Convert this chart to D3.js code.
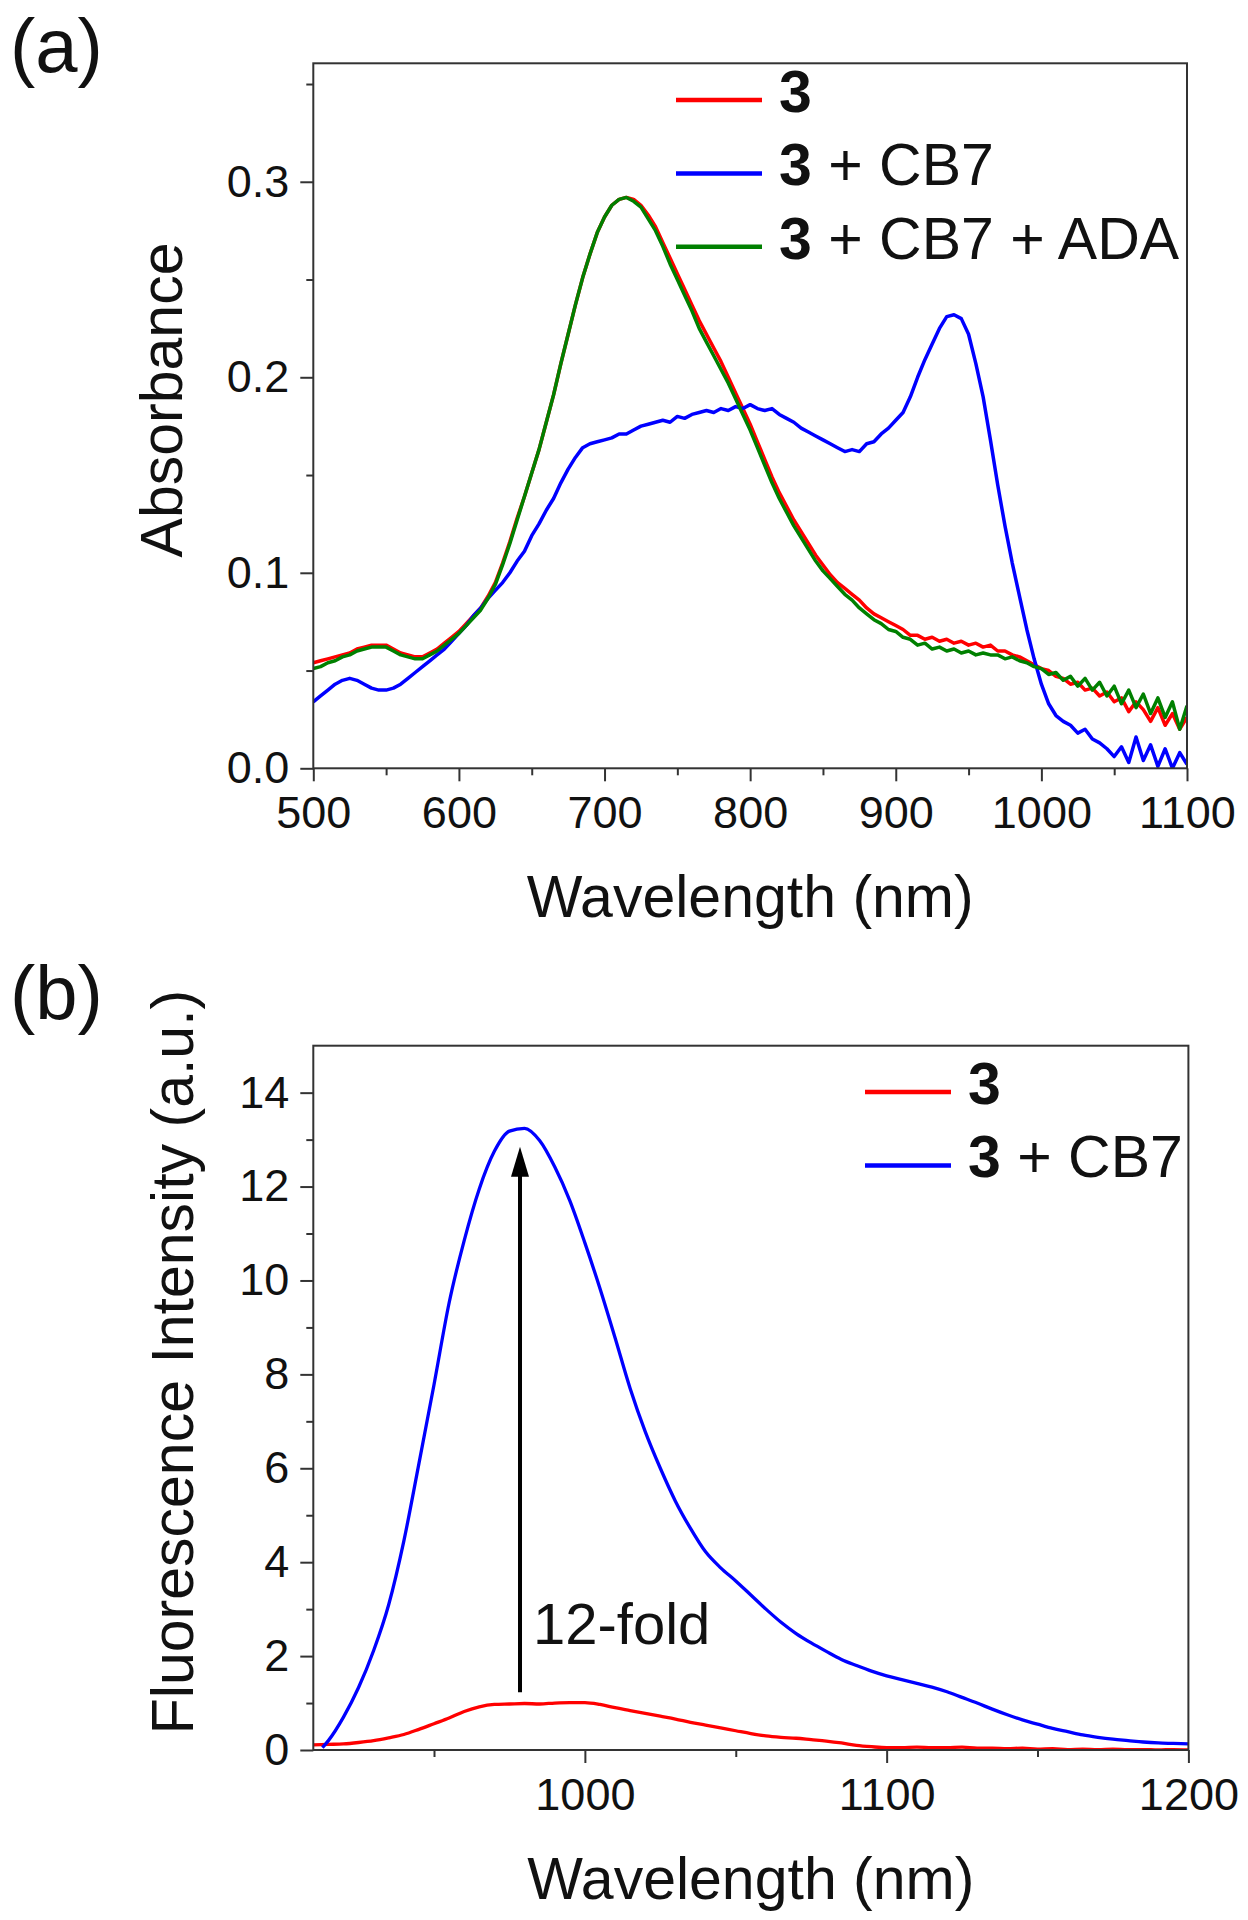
<!DOCTYPE html>
<html>
<head>
<meta charset="utf-8">
<script src="https://cdn.jsdelivr.net/npm/d3@7"></script>
<style>
body { margin: 0; background: #fff; }
svg { display: block; background: #fff; }
text { font-family: "Liberation Sans", Arial, sans-serif; fill: #111; }
.axis path, .axis line { stroke: #333; stroke-width: 2; }
.axis text { font-size: 45px; font-family: "Liberation Sans", Arial, sans-serif; fill: #111; }
.frame { fill: none; stroke: #333; stroke-width: 2; }
</style>
</head>
<body>
<svg width="1248" height="1920"></svg>
<script>

// (a) absorbance, sampled every 5 nm from 500 to 1100
var wavelengthA = d3.range(500, 1101, 5);

var abs3 = [
 .054,.055,.056,.057,.058,.059,.061,.062,.063,.063,.063,.061,.059,.058,.057,.057,.059,.061,.064,.067,.070,
 .074,.078,.082,.088,.095,.105,.116,.128,.139,.151,
 .163,.177,.191,.207,.222,.237,.251,.263,.274,.282,
 .288,.291,.292,.291,.288,.283,.277,.269,.261,.253,
 .245,.237,.229,.222,.215,.208,.200,.192,.184,.176,
 .167,.158,.149,.141,.134,.127,.121,.115,.109,.104,
 .099,.095,.092,.089,.086,.082,.079,.077,.075,.073,
 .071,.068,.068,.066,.067,.065,.066,.064,.065,.063,
 .064,.062,.063,.060,.060,.058,.057,.055,.053,.051,
 .050,.047,.046,.043,.044,.040,.041,.037,.039,.034,
 .036,.029,.034,.030,.024,.031,.022,.028,.020,.026
];

var abs3CB7 = [
 .034,.037,.040,.043,.045,.046,.045,.043,.041,.040,.040,.041,.043,.046,.049,.052,.055,.058,.061,.065,.069,
 .073,.078,.082,.087,.091,.095,.100,.106,.111,.119,
 .125,.132,.138,.146,.153,.159,.164,.166,.167,.168,
 .169,.171,.171,.173,.175,.176,.177,.178,.177,.180,
 .179,.181,.182,.183,.182,.184,.183,.185,.184,.186,
 .184,.183,.184,.181,.179,.177,.174,.172,.170,.168,
 .166,.164,.162,.163,.162,.166,.167,.171,.174,.178,
 .182,.190,.200,.209,.217,.225,.231,.232,.230,.222,
 .207,.190,.168,.145,.124,.105,.088,.071,.056,.043,
 .033,.027,.024,.022,.018,.020,.015,.013,.010,.006,
 .011,.003,.016,.004,.012,.001,.010,.000,.008,.002
];

var abs3CB7ADA = [
 .051,.052,.054,.055,.057,.058,.060,.061,.062,.062,.062,.060,.058,.057,.056,.056,.058,.060,.063,.066,.069,
 .073,.077,.081,.087,.094,.104,.115,.127,.139,.151,
 .163,.177,.191,.207,.222,.237,.251,.263,.274,.282,
 .288,.291,.292,.290,.287,.281,.275,.267,.258,.250,
 .242,.234,.225,.218,.211,.204,.197,.189,.181,.173,
 .164,.155,.146,.138,.131,.124,.118,.112,.106,.101,
 .097,.093,.089,.086,.082,.079,.076,.074,.071,.070,
 .067,.066,.063,.064,.061,.062,.060,.061,.059,.060,
 .058,.059,.058,.058,.056,.057,.055,.054,.052,.051,
 .048,.049,.045,.047,.042,.046,.040,.044,.037,.042,
 .033,.040,.031,.038,.028,.036,.026,.034,.020,.032
];

// (b) fluorescence
var wavelengthB3 = d3.range(910, 1201, 5);
var fluor3 = [
 .11,.12,.13,.16,.20,.26,.33,.44,.56,.68,
 .82,.92,.97,.98,.99,.98,1.00,1.01,1.01,.97,
 .90,.84,.78,.72,.66,.59,.53,.47,.41,.35,
 .30,.27,.25,.22,.19,.15,.10,.07,.05,.05,
 .06,.05,.05,.06,.04,.04,.03,.04,.02,.03,
 .01,.02,.01,.02,.01,.01,.00,.01,.00
];

var wavelengthBCB7 = [913].concat(d3.range(915, 1201, 5));
var fluor3CB7 = [
 .05,.20,.70,1.33,2.12,3.10,4.45,6.10,7.78,9.52,
 10.85,11.95,12.75,13.18,13.24,12.98,12.42,11.70,10.80,9.83,
 8.78,7.70,6.78,6.00,5.30,4.72,4.22,3.88,3.60,3.30,
 3.00,2.72,2.48,2.28,2.10,1.93,1.80,1.68,1.58,1.50,
 1.42,1.34,1.24,1.12,1.00,.87,.75,.64,.55,.46,
 .39,.32,.27,.23,.20,.17,.15,.14,.13
];

var ticksAx = [500, 600, 700, 800, 900, 1000, 1100],
    minorAx = [550, 650, 750, 850, 950, 1050],
    ticksAy = [0, 0.1, 0.2, 0.3],
    minorAy = [0.05, 0.15, 0.25, 0.35];
var ticksBx = [1000, 1100, 1200],
    minorBx = [950, 1050, 1150],
    ticksBy = [0, 2, 4, 6, 8, 10, 12, 14],
    minorBy = [1, 3, 5, 7, 9, 11, 13];

var svg = d3.select("svg");

function zip(xs, ys) {
  return xs.map(function(x, i) { return {x: x, y: ys[i]}; });
}

function panel(o) {
  var x = d3.scaleLinear().domain(o.xDomain).range([o.left, o.right]);
  var y = d3.scaleLinear().domain(o.yDomain).range([o.bottom, o.top]);
  var g = svg.append("g");

  g.append("clipPath").attr("id", o.id + "-clip")
    .append("rect")
      .attr("x", o.left).attr("y", o.top)
      .attr("width", o.right - o.left).attr("height", o.bottom - o.top);

  var line = d3.line()
      .curve(o.curve)
      .x(function(d) { return x(d.x); })
      .y(function(d) { return y(d.y); });

  o.series.forEach(function(s) {
    g.append("path")
        .datum(zip(s.x, s.y))
        .attr("clip-path", "url(#" + o.id + "-clip)")
        .attr("fill", "none")
        .attr("stroke", s.color)
        .attr("stroke-width", o.lineWidth)
        .attr("stroke-linejoin", "round")
        .attr("d", line);
  });

  g.append("rect").attr("class", "frame")
      .attr("x", o.left).attr("y", o.top)
      .attr("width", o.right - o.left).attr("height", o.bottom - o.top);

  g.append("g")
      .attr("class", "axis")
      .attr("transform", "translate(0," + o.bottom + ")")
      .call(d3.axisBottom(x).tickValues(o.xTicks).tickSize(13).tickPadding(15).tickFormat(d3.format("d")))
      .call(function(a) { a.select(".domain").remove(); });
  g.append("g")
      .attr("class", "axis")
      .attr("transform", "translate(0," + o.bottom + ")")
      .call(d3.axisBottom(x).tickValues(o.xMinor).tickSize(7).tickFormat(""))
      .call(function(a) { a.select(".domain").remove(); });
  g.append("g")
      .attr("class", "axis")
      .attr("transform", "translate(" + o.left + ",0)")
      .call(d3.axisLeft(y).tickValues(o.yTicks).tickSize(13).tickPadding(11).tickFormat(o.yFormat))
      .call(function(a) { a.select(".domain").remove(); });
  g.append("g")
      .attr("class", "axis")
      .attr("transform", "translate(" + o.left + ",0)")
      .call(d3.axisLeft(y).tickValues(o.yMinor).tickSize(7).tickFormat(""))
      .call(function(a) { a.select(".domain").remove(); });

  g.append("text")
      .attr("x", (o.left + o.right) / 2)
      .attr("y", o.bottom + 149)
      .attr("text-anchor", "middle")
      .style("font-size", "59px")
      .text("Wavelength (nm)");

  g.append("text")
      .attr("transform", "translate(" + o.yTitleX + "," + o.yTitleY + ") rotate(-90)")
      .attr("text-anchor", "middle")
      .style("font-size", "59px")
      .text(o.yTitle);

  g.append("text")
      .attr("x", 10)
      .attr("y", o.labelY)
      .style("font-size", "76px")
      .text(o.label);

  var leg = g.selectAll(".legend")
      .data(o.series)
    .enter().append("g")
      .attr("transform", function(s, i) { return "translate(" + o.legendX + "," + (o.legendY + i * 73.4) + ")"; });
  leg.append("line")
      .attr("x1", 0).attr("x2", 86)
      .attr("stroke", function(s) { return s.color; })
      .attr("stroke-width", 4.5);
  var lt = leg.append("text")
      .attr("x", 103)
      .attr("y", 12)
      .style("font-size", "59px");
  lt.append("tspan").style("font-weight", "bold").text("3");
  lt.append("tspan").text(function(s) { return s.suffix; });

  return {x: x, y: y, g: g};
}

panel({
  id: "a", label: "(a)", labelY: 72,
  left: 313.3, right: 1187, top: 63.3, bottom: 768.3,
  xDomain: [500, 1100], yDomain: [0, 0.3606],
  xTicks: ticksAx, xMinor: minorAx, yTicks: ticksAy, yMinor: minorAy,
  yFormat: d3.format(".1f"),
  yTitle: "Absorbance", yTitleX: 182, yTitleY: 400,
  curve: d3.curveLinear, lineWidth: 3.5,
  legendX: 676, legendY: 100,
  series: [
    {x: wavelengthA, y: abs3, color: "#ff0000", suffix: ""},
    {x: wavelengthA, y: abs3CB7, color: "#0000ff", suffix: " + CB7"},
    {x: wavelengthA, y: abs3CB7ADA, color: "#008000", suffix: " + CB7 + ADA"}
  ]
});

var pb = panel({
  id: "b", label: "(b)", labelY: 1019,
  left: 313.3, right: 1188.4, top: 1045.7, bottom: 1750,
  xDomain: [910, 1200], yDomain: [0, 15],
  xTicks: ticksBx, xMinor: minorBx, yTicks: ticksBy, yMinor: minorBy,
  yFormat: d3.format("d"),
  yTitle: "Fluorescence Intensity (a.u.)", yTitleX: 193, yTitleY: 1362,
  curve: d3.curveMonotoneX, lineWidth: 3.3,
  legendX: 865, legendY: 1092,
  series: [
    {x: wavelengthB3, y: fluor3, color: "#ff0000", suffix: ""},
    {x: wavelengthBCB7, y: fluor3CB7, color: "#0000ff", suffix: " + CB7"}
  ]
});

// 12-fold arrow
var arrowNm = 978.5, arrowFrom = 1.23, arrowTo = 12.85;
var ax = pb.x(arrowNm), ay0 = pb.y(arrowFrom), ay1 = pb.y(arrowTo);
pb.g.append("line")
    .attr("x1", ax).attr("x2", ax)
    .attr("y1", ay0).attr("y2", ay1 + 24)
    .attr("stroke", "#000").attr("stroke-width", 4);
pb.g.append("path")
    .attr("d", "M" + ax + "," + ay1 + "L" + (ax - 9) + "," + (ay1 + 30) + "L" + (ax + 9) + "," + (ay1 + 30) + "Z")
    .attr("fill", "#000");
pb.g.append("text")
    .attr("x", pb.x(982.8))
    .attr("y", pb.y(2.26))
    .style("font-size", "58px")
    .text("12-fold");

</script>
</body>
</html>
